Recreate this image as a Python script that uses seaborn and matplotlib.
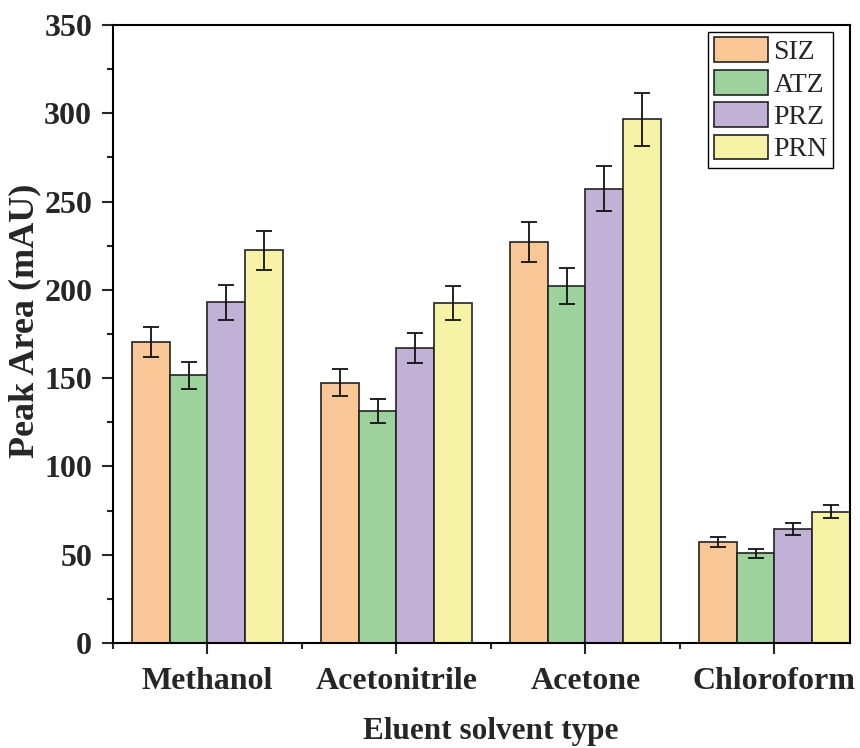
import seaborn as sns
import matplotlib.pyplot as plt
import pandas as pd
from matplotlib.ticker import FixedLocator, MultipleLocator

# data
solvents = ['Methanol', 'Acetonitrile', 'Acetone', 'Chloroform']
compounds = ['SIZ', 'ATZ', 'PRZ', 'PRN']
siz = [170.7, 147.4, 227.3, 57.1]
atz = [151.6, 131.2, 202.2, 50.8]
prz = [193.0, 167.1, 257.3, 64.4]
prn = [222.3, 192.6, 296.6, 74.2]
siz_err = [8.5, 7.8, 11.3, 2.8]
atz_err = [7.7, 6.8, 10.4, 2.5]
prz_err = [9.8, 8.5, 12.8, 3.5]
prn_err = [11.0, 9.8, 14.9, 3.7]
colors = ['#FAC896', '#9ED29C', '#C2B1D7', '#F6F3A6']

values = [siz, atz, prz, prn]
errors = [siz_err, atz_err, prz_err, prn_err]
rows = []
for c, vals in zip(compounds, values):
    for s, v in zip(solvents, vals):
        rows.append({'solvent': s, 'compound': c, 'area': v})
df = pd.DataFrame(rows)

sns.set_style('ticks')
plt.rcParams['font.family'] = ['Liberation Serif', 'DejaVu Serif']

fig = plt.figure(figsize=(8.6, 7.48), dpi=100)
ax = fig.add_axes([0.1314, 0.1404, 0.857, 0.8262])

sns.barplot(data=df, x='solvent', y='area', hue='compound', order=solvents,
            hue_order=compounds, palette=colors, saturation=1, errorbar=None,
            edgecolor='#222222', linewidth=1.2, width=0.8, ax=ax)

# error bars on the bar centres
for cont, err in zip(ax.containers, errors):
    xs = [p.get_x() + p.get_width() / 2 for p in cont.patches]
    hs = [p.get_height() for p in cont.patches]
    ax.errorbar(xs, hs, yerr=err, fmt='none', ecolor='#111111', elinewidth=1.3,
                capsize=6, capthick=1.3)

ax.set_ylim(0, 350)
ax.set_xlim(-0.5, 3.4)
ax.yaxis.set_major_locator(MultipleLocator(50))
ax.yaxis.set_minor_locator(MultipleLocator(25))
ax.xaxis.set_minor_locator(FixedLocator([-0.5, 0.5, 1.5, 2.5]))

for sp in ax.spines.values():
    sp.set_visible(True)
    sp.set_linewidth(1.5)
    sp.set_color('black')

ax.tick_params(axis='both', which='major', direction='out', length=8, width=1.5,
               labelsize=23)
ax.tick_params(axis='both', which='minor', direction='out', length=4.5, width=1.5)
ax.tick_params(axis='y', which='major', pad=7)
ax.tick_params(axis='x', which='major', pad=9)
for lab in ax.get_xticklabels() + ax.get_yticklabels():
    lab.set_fontweight('bold')

ax.set_xlabel('Eluent solvent type', fontsize=22.5, fontweight='bold', labelpad=15.5)
ax.set_ylabel('Peak Area (mAU)', fontsize=26, fontweight='bold', labelpad=2)
ax.xaxis.label.set_x(0.512)
ax.yaxis.label.set_y(0.521)

leg = ax.legend(loc='upper right', bbox_to_anchor=(0.977, 0.989), fontsize=20,
                frameon=True, fancybox=False, edgecolor='black', framealpha=1,
                handlelength=1.95, handleheight=1.0, labelspacing=0.16,
                handletextpad=0.2, borderpad=0.2, borderaxespad=0)
leg.get_frame().set_linewidth(1.0)

plt.savefig('out.png', dpi=100)
